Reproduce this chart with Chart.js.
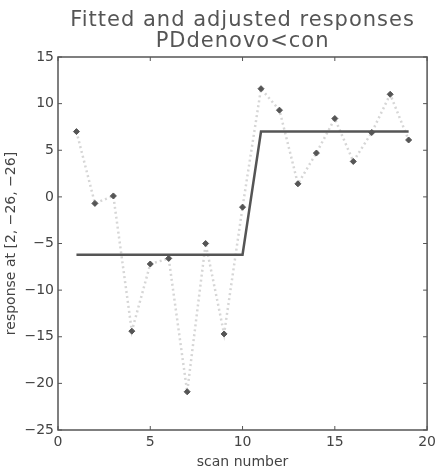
<!DOCTYPE html>
<html>
<head>
<meta charset="utf-8">
<script src="https://cdn.jsdelivr.net/npm/chart.js@4/dist/chart.umd.min.js"></script>
<style>
  html, body { margin: 0; padding: 0; background: #fff; }
  #wrap { width: 440px; height: 471px; }
</style>
</head>
<body>
<div id="wrap"><canvas id="c" width="440" height="471"></canvas></div>
<script>
// scan numbers and responses
const scans = [1, 2, 3, 4, 5, 6, 7, 8, 9, 10, 11, 12, 13, 14, 15, 16, 17, 18, 19];
const adjusted = [7.0, -0.7, 0.1, -14.4, -7.2, -6.6, -20.9, -5.0, -14.7, -1.1, 11.6, 9.3, 1.4, 4.7, 8.4, 3.8, 6.9, 11.0, 6.1];
const fitted = [-6.2, -6.2, -6.2, -6.2, -6.2, -6.2, -6.2, -6.2, -6.2, -6.2, 7.0, 7.0, 7.0, 7.0, 7.0, 7.0, 7.0, 7.0, 7.0];
const xTicks = [0, 5, 10, 15, 20];
const yTicks = [-25, -20, -15, -10, -5, 0, 5, 10, 15];
const titleLines = ["Fitted and adjusted responses", "PDdenovo<con"];

const FONT = "'DejaVu Sans', 'Open Sans', sans-serif";
const ink = "#555";

const fmt = v => (v < 0 ? "\u2212" + Math.abs(v) : "" + v);

// title centred over the axes box, like matlab does it
const titlePlugin = {
    id: "boxTitle",
    afterDraw(chart) {
        const { ctx, chartArea: a } = chart;
        const cx = (a.left + a.right) / 2;
        ctx.save();
        ctx.fillStyle = ink;
        ctx.font = "21px " + FONT;
        ctx.letterSpacing = "1px";
        ctx.textAlign = "center";
        ctx.textBaseline = "alphabetic";
        ctx.fillText(titleLines[0], cx, 26);
        ctx.fillText(titleLines[1], cx, 47);
        ctx.restore();
    }
};

// box frame with inward tick marks
const boxPlugin = {
    id: "box",
    afterDatasetsDraw(chart) {
        const { ctx, chartArea: a, scales } = chart;
        ctx.save();
        ctx.strokeStyle = ink;
        ctx.lineWidth = 1.5;
        ctx.strokeRect(a.left, a.top, a.right - a.left, a.bottom - a.top);
        ctx.lineWidth = 1;
        xTicks.forEach(t => {
            const px = scales.x.getPixelForValue(t);
            ctx.beginPath();
            ctx.moveTo(px, a.bottom); ctx.lineTo(px, a.bottom - 4);
            ctx.moveTo(px, a.top); ctx.lineTo(px, a.top + 4);
            ctx.stroke();
        });
        yTicks.forEach(t => {
            const py = scales.y.getPixelForValue(t);
            ctx.beginPath();
            ctx.moveTo(a.left, py); ctx.lineTo(a.left + 4, py);
            ctx.moveTo(a.right, py); ctx.lineTo(a.right - 4, py);
            ctx.stroke();
        });
        ctx.restore();
    }
};

const chart = new Chart(document.getElementById("c"), {
    type: "line",
    data: {
        datasets: [
            {
                label: "fitted",
                data: scans.map((s, i) => ({ x: s, y: fitted[i] })),
                borderColor: ink,
                borderWidth: 2.5,
                pointRadius: 0,
                fill: false,
                order: 1,
            },
            {
                label: "adjusted",
                data: scans.map((s, i) => ({ x: s, y: adjusted[i] })),
                borderColor: "#d6d6d6",
                borderWidth: 2.5,
                borderDash: [2, 3],
                pointStyle: "rectRot",
                pointRadius: 3,
                pointBackgroundColor: ink,
                pointBorderColor: ink,
                pointBorderWidth: 1,
                fill: false,
                order: 2,
            },
        ],
    },
    options: {
        responsive: false,
        animation: false,
        layout: { padding: { left: 0, right: 10, top: 57, bottom: 0 } },
        plugins: {
            legend: { display: false },
            tooltip: { enabled: false },
            title: { display: false },
        },
        scales: {
            x: {
                type: "linear",
                min: 0,
                max: 20,
                afterBuildTicks: s => { s.ticks = xTicks.map(v => ({ value: v })); },
                afterFit: s => { s.height = 41; },
                grid: { display: false, drawTicks: false },
                border: { display: false },
                ticks: { color: "#444", font: { family: FONT, size: 14 }, padding: 4, callback: v => fmt(v), maxRotation: 0 },
                title: { display: true, text: "scan number", color: "#444", font: { family: FONT, size: 14 }, padding: { top: 0, bottom: 0 } },
            },
            y: {
                type: "linear",
                min: -25,
                max: 15,
                afterBuildTicks: s => { s.ticks = yTicks.map(v => ({ value: v })); },
                afterFit: s => { s.width = 58; },
                grid: { display: false, drawTicks: false },
                border: { display: false },
                ticks: { color: "#444", font: { family: FONT, size: 14 }, padding: 4, callback: v => fmt(v) },
                title: { display: true, text: "response at [2, \u221226, \u221226]", color: "#444", font: { family: FONT, size: 14 }, padding: { top: 3, bottom: 2 } },
            },
        },
    },
    plugins: [boxPlugin, titlePlugin],
});
</script>
</body>
</html>
